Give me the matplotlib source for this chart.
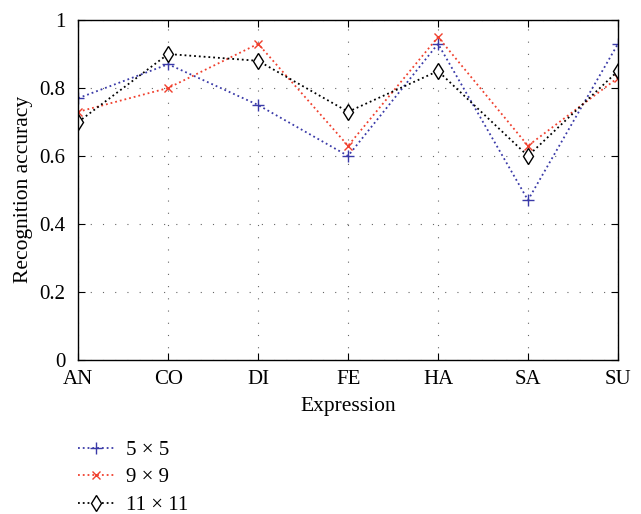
import matplotlib
matplotlib.use("Agg")
import matplotlib.pyplot as plt

plt.rcParams['font.family'] = ['Liberation Serif', 'DejaVu Serif']

# data
expressions = ["AN", "CO", "DI", "FE", "HA", "SA", "SU"]
acc_5x5 = [0.77, 0.87, 0.75, 0.60, 0.93, 0.47, 0.93]
acc_9x9 = [0.73, 0.80, 0.93, 0.63, 0.95, 0.63, 0.83]
acc_11x11 = [0.70, 0.90, 0.88, 0.73, 0.85, 0.60, 0.85]
series_labels = ["5 \u00d7 5", "9 \u00d7 9", "11 \u00d7 11"]

fig = plt.figure(figsize=(6.41, 5.14), dpi=100)
ax = fig.add_axes([0.122, 0.300, 0.842, 0.661])

x = list(range(len(expressions)))
l1, = ax.plot(x, acc_5x5, ls=":", lw=1.3, color="#3a3aa8", marker="+", ms=9, mew=1.0)
l2, = ax.plot(x, acc_9x9, ls=":", lw=1.3, color="#f0402e", marker="x", ms=6, mew=1.0)
l3, = ax.plot(x, acc_11x11, ls=":", lw=1.3, color="black", marker="d", ms=8,
              mfc="white", mew=1.0)

ax.set_xlim(0, 6)
ax.set_ylim(0, 1)
ax.set_xticks(x)
ax.set_xticklabels(expressions)
ax.set_yticks([0, 0.2, 0.4, 0.6, 0.8, 1])
ax.set_yticklabels(["0", "0.2", "0.4", "0.6", "0.8", "1"])
ax.grid(True, ls=(0, (1, 10)), color="#666666", lw=0.8)
ax.tick_params(direction="in", top=True, right=True, labelsize=15, length=5)
ax.tick_params(axis="y", pad=9)
ax.tick_params(axis="x", pad=7)
for s in ax.spines.values():
    s.set_linewidth(1.0)
ax.set_xlabel("Expression", fontsize=15.5, labelpad=6)
ax.set_ylabel("Recognition accuracy", fontsize=15.5, labelpad=5)

fig.legend([l1, l2, l3], series_labels, loc="upper left",
           bbox_to_anchor=(0.093, 0.18), frameon=False, fontsize=15,
           handlelength=1.7, labelspacing=0.38, handletextpad=0.6)

fig.savefig("out.png", dpi=100)
